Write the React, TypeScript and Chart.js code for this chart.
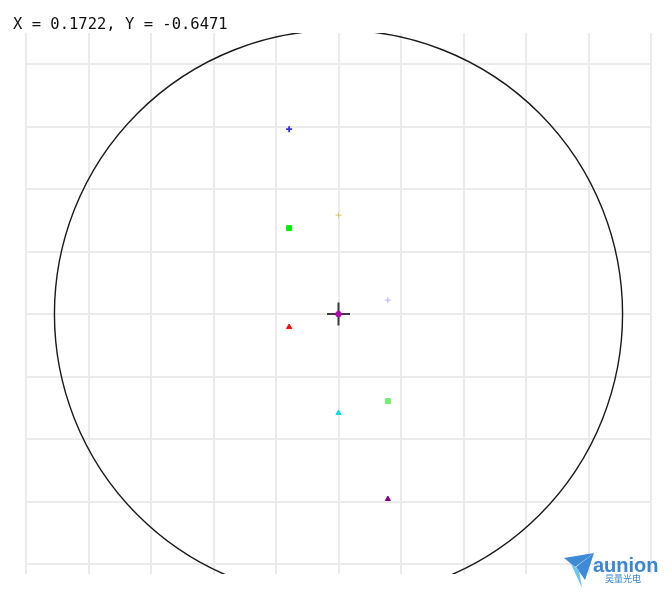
import React, { useEffect, useRef } from "react";
import { Chart, registerables } from "chart.js";

Chart.register(...registerables);

// Axis ranges / grid (data units, one grid step = 1)
const X_MIN = -5;
const X_MAX = 5;
const Y_MIN = -4.16;
const Y_MAX = 4.5;
const X_TICKS = [-5, -4, -3, -2, -1, 0, 1, 2, 3, 4, 5];
const Y_TICKS = [-4, -3, -2, -1, 0, 1, 2, 3, 4];

// Wafer outline
const WAFER_CENTER = { x: 0, y: 0 };
const WAFER_RADIUS = 4.545;

// Measurement points
const pointNames = ["center", "p1", "p2", "p3", "p4", "p5", "p6", "p7", "p8"];
const pointX = [0, -0.79, -0.79, 0.0, 0.79, -0.79, 0.0, 0.79, 0.79];
const pointY = [0, 2.96, 1.376, 1.584, 0.224, -0.208, -1.584, -1.392, -2.96];
const pointColors = ["#b000b0", "#3030e8", "#00ee00", "#d8cc60", "#b4b4ff", "#ff0000", "#00e0e0", "#70ee70", "#800080"];
const pointStyles = ["circle", "cross", "rect", "cross", "cross", "triangle", "triangle", "rect", "triangle"];
const pointRadii = [2.8, 3, 3.5, 3, 3, 3, 3, 3.5, 3];
const pointBorderWidths = [1, 1.8, 1, 1, 1, 1, 1, 1, 1];

// Cursor readout
const CURSOR_X = 0.1722;
const CURSOR_Y = -0.6471;
const CROSSHAIR = { x: 0, y: 0 };

const waferPlugin = {
  id: "wafer",
  beforeDatasetsDraw(chart: any) {
    const { ctx, chartArea, scales } = chart;
    const cx = scales.x.getPixelForValue(WAFER_CENTER.x);
    const cy = scales.y.getPixelForValue(WAFER_CENTER.y);
    const r = scales.x.getPixelForValue(WAFER_CENTER.x + WAFER_RADIUS) - cx;
    ctx.save();
    ctx.beginPath();
    ctx.rect(chartArea.left, chartArea.top, chartArea.right - chartArea.left, chartArea.bottom - chartArea.top);
    ctx.clip();
    ctx.beginPath();
    ctx.arc(cx, cy, r, 0, Math.PI * 2);
    ctx.strokeStyle = "#1a1a1a";
    ctx.lineWidth = 1.4;
    ctx.stroke();
    ctx.restore();
  },
};

export default function App() {
  const ref = useRef<HTMLCanvasElement | null>(null);

  useEffect(() => {
    if (!ref.current) return;
    const pointDatasets = pointNames.map((name, i) => ({
      label: name,
      data: [{ x: pointX[i], y: pointY[i] }],
      pointStyle: pointStyles[i],
      pointRadius: pointRadii[i],
      pointBorderWidth: pointBorderWidths[i],
      backgroundColor: pointColors[i],
      borderColor: pointColors[i],
      showLine: false,
      order: 0,
    }));
    const chart = new Chart(ref.current, {
      type: "scatter",
      data: {
        datasets: [
          ...pointDatasets,
          {
            label: "crosshair",
            data: [{ x: CROSSHAIR.x, y: CROSSHAIR.y }],
            pointStyle: "cross",
            pointRadius: 11.5,
            pointBorderWidth: 2,
            borderColor: "#3a3a3a",
            backgroundColor: "#3a3a3a",
            showLine: false,
            order: 1,
          },
        ],
      },
      options: {
        animation: false,
        responsive: false,
        maintainAspectRatio: false,
        layout: { padding: { left: 26, right: 21, top: 33, bottom: 19 } },
        plugins: { legend: { display: false }, tooltip: { enabled: false }, title: { display: false } },
        scales: {
          x: {
            type: "linear",
            min: X_MIN,
            max: X_MAX,
            afterBuildTicks: (s: any) => {
              s.ticks = X_TICKS.map((v) => ({ value: v }));
            },
            ticks: { display: false },
            border: { display: false },
            grid: { color: "#ebebeb", lineWidth: 2, drawTicks: false },
          },
          y: {
            type: "linear",
            min: Y_MIN,
            max: Y_MAX,
            afterBuildTicks: (s: any) => {
              s.ticks = Y_TICKS.map((v) => ({ value: v }));
            },
            ticks: { display: false },
            border: { display: false },
            grid: { color: "#ebebeb", lineWidth: 2, drawTicks: false },
          },
        },
      },
      plugins: [waferPlugin],
    });
    return () => chart.destroy();
  }, []);

  return (
    <div style={{ position: "fixed", left: 0, top: 0, width: 672, height: 593, background: "#fff" }}>
      <canvas ref={ref} width={672} height={593} style={{ position: "absolute", left: 0, top: 0, width: 672, height: 593 }} />
      <div
        style={{
          position: "absolute",
          left: 13,
          top: 14.5,
          fontFamily: '"DejaVu Sans Mono", monospace',
          fontSize: 15.5,
          lineHeight: "18px",
          color: "#111",
          whiteSpace: "pre",
        }}
      >
        {`X = ${CURSOR_X.toFixed(4)}, Y = ${CURSOR_Y.toFixed(4)}`}
      </div>
      <svg style={{ position: "absolute", left: 562, top: 550 }} width={36} height={42}>
        <polygon points="2,8 32,3 13,17" fill="#3d8ad6" />
        <polygon points="32,3 23,30 14,17" fill="#3d8ad6" />
        <polygon points="9,14 20,38 17,20" fill="#6cc6ee" />
      </svg>
      <div
        style={{
          position: "absolute",
          left: 593,
          top: 554,
          fontFamily: '"Liberation Sans", Arial, sans-serif',
          fontWeight: "bold",
          fontSize: 20,
          lineHeight: "23px",
          color: "#3a86d0",
        }}
      >
        aunion
      </div>
      <div
        style={{
          position: "absolute",
          left: 605,
          top: 573,
          fontFamily: '"Noto Sans CJK SC", sans-serif',
          fontSize: 9,
          lineHeight: "11px",
          color: "#3a86d0",
        }}
      >
        昊量光电
      </div>
    </div>
  );
}
